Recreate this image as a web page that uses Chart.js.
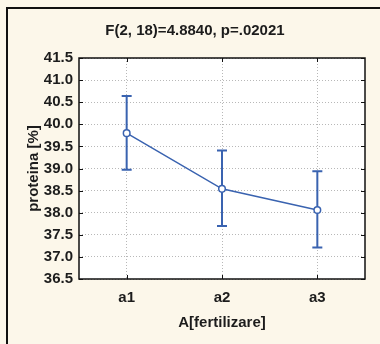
<!DOCTYPE html>
<html>
<head>
<meta charset="utf-8">
<script src="https://cdn.jsdelivr.net/npm/chart.js@4.4.0/dist/chart.umd.min.js"></script>
<style>
  html, body { margin: 0; padding: 0; background: #FCF7EA; overflow: hidden; }
  #wrap { position: relative; width: 380px; height: 344px; }
  #frame { position: absolute; left: 6px; top: 7px; width: 420px; height: 420px; border: 2px solid #111; box-sizing: border-box; }
  canvas { position: absolute; left: 0; top: 0; }
</style>
</head>
<body>
<div id="wrap">
  <div id="frame"></div>
  <canvas id="c" width="380" height="344"></canvas>
</div>
<script>
const categories = ['a1', 'a2', 'a3'];
const means = [39.80, 38.54, 38.06];
const lower = [38.97, 37.70, 37.21];
const upper = [40.64, 39.41, 38.94];
const yTicks = [36.5, 37.0, 37.5, 38.0, 38.5, 39.0, 39.5, 40.0, 40.5, 41.0, 41.5];
const titleText = 'F(2, 18)=4.8840, p=.02021';
const xTitle = 'A[fertilizare]';
const yTitle = 'proteina [%]';

const BLUE = '#3A63B0';
const TXT = '#1c1c1c';
const FONT = { family: 'Arial, "Liberation Sans", sans-serif', size: 15, weight: 'bold' };

const extras = {
  id: 'extras',
  beforeDatasetsDraw(chart) {
    const { ctx, chartArea: a, scales: { x, y } } = chart;
    ctx.save();
    ctx.strokeStyle = '#111';
    ctx.lineWidth = 1;
    yTicks.forEach(v => {
      const py = Math.round(y.getPixelForValue(v)) + 0.5;
      ctx.beginPath();
      ctx.moveTo(a.left, py); ctx.lineTo(a.left + 4, py);
      ctx.moveTo(a.right, py); ctx.lineTo(a.right - 4, py);
      ctx.stroke();
    });
    categories.forEach((c, i) => {
      const px = Math.round(x.getPixelForValue(i)) + 0.5;
      ctx.beginPath();
      ctx.moveTo(px, a.bottom); ctx.lineTo(px, a.bottom - 4);
      ctx.moveTo(px, a.top); ctx.lineTo(px, a.top + 4);
      ctx.stroke();
    });
    ctx.strokeStyle = BLUE;
    ctx.lineWidth = 2;
    categories.forEach((c, i) => {
      const px = x.getPixelForValue(i);
      const y1 = y.getPixelForValue(lower[i]);
      const y2 = y.getPixelForValue(upper[i]);
      ctx.beginPath();
      ctx.moveTo(px, y1); ctx.lineTo(px, y2);
      ctx.moveTo(px - 5, y1); ctx.lineTo(px + 5, y1);
      ctx.moveTo(px - 5, y2); ctx.lineTo(px + 5, y2);
      ctx.stroke();
    });
    ctx.restore();
  },
  afterDraw(chart) {
    const { ctx, chartArea: a } = chart;
    ctx.save();
    ctx.strokeStyle = '#111';
    ctx.lineWidth = 1.5;
    ctx.strokeRect(a.left, a.top, a.right - a.left, a.bottom - a.top);
    ctx.restore();
  }
};

const plotBg = {
  id: 'plotBg',
  beforeDraw(chart) {
    const { ctx, chartArea: a } = chart;
    ctx.save();
    ctx.fillStyle = '#ffffff';
    ctx.fillRect(a.left, a.top, a.right - a.left, a.bottom - a.top);
    ctx.restore();
  }
};

new Chart(document.getElementById('c'), {
  type: 'line',
  data: {
    labels: categories,
    datasets: [{
      data: means,
      borderColor: BLUE,
      borderWidth: 1.5,
      backgroundColor: '#ffffff',
      pointBackgroundColor: '#ffffff',
      pointBorderColor: BLUE,
      pointBorderWidth: 1.5,
      pointRadius: 3.3,
      tension: 0,
      fill: false
    }]
  },
  options: {
    responsive: false,
    animation: false,
    devicePixelRatio: 1,
    layout: { padding: { left: 25, right: 15, top: 0, bottom: 0 } },
    plugins: {
      legend: { display: false },
      tooltip: { enabled: false },
      title: {
        display: true,
        text: titleText,
        color: TXT,
        font: FONT,
        padding: { top: 22, bottom: 18 }
      }
    },
    scales: {
      x: {
        type: 'category',
        offset: true,
        grid: { color: '#b8b8b8', drawTicks: false, offset: false, lineWidth: 1 },
        border: { display: false, dash: [1, 2] },
        ticks: { color: TXT, font: FONT, padding: 10 },
        title: { display: true, text: xTitle, color: TXT, font: FONT, padding: { top: 0, bottom: 12 } },
        afterFit(s) { s.height = 65; }
      },
      y: {
        min: 36.5,
        max: 41.5,
        afterBuildTicks(s) { s.ticks = yTicks.map(v => ({ value: v })); },
        grid: { color: '#b8b8b8', drawTicks: false, lineWidth: 1 },
        border: { display: false, dash: [1, 2] },
        ticks: { color: TXT, font: FONT, padding: 6, callback: v => Number(v).toFixed(1) },
        title: { display: true, text: yTitle, color: TXT, font: FONT, padding: { top: 0, bottom: 0 } },
        afterFit(s) { s.width = 54; }
      }
    }
  },
  plugins: [plotBg, extras]
});
</script>
</body>
</html>
